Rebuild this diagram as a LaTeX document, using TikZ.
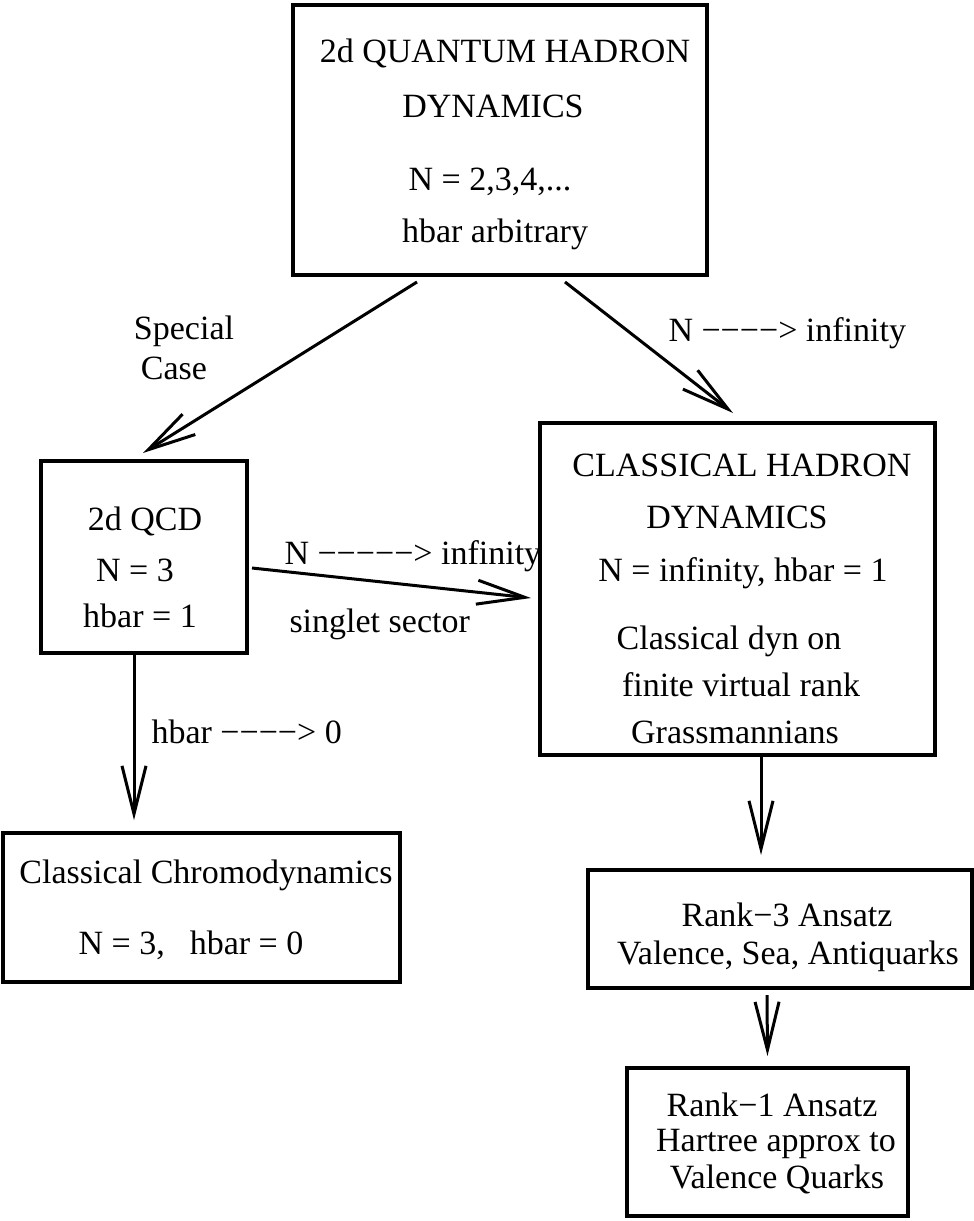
\documentclass[tikz,border=0pt]{standalone}
\usepackage{fontspec}
\setmainfont{Liberation Serif}
\usetikzlibrary{arrows.meta}
\tikzset{
  box/.style={draw,line width=4pt,inner sep=0pt},
  txt/.style={anchor=base,inner sep=0pt,font=\fontsize{34}{40}\selectfont},
}
\begin{document}
\begin{tikzpicture}[>={Straight Barb[length=48pt,width=24pt]},x=1pt,y=-1pt,line width=3pt]
  \useasboundingbox (0,0) rectangle (974,1221);
  % boxes
  \node[box,minimum width=414pt,minimum height=270pt] (top) at (500,140) {}; % quantum hadron dynamics
  \node[box,minimum width=206pt,minimum height=192pt] (qcd) at (144,557) {}; % 2d QCD
  \node[box,minimum width=395pt,minimum height=332pt] (chd) at (737.5,589) {}; % classical hadron dynamics
  \node[box,minimum width=397pt,minimum height=149pt] (ccd) at (201.5,907.5) {}; % classical chromodynamics
  \node[box,minimum width=384pt,minimum height=118pt] (rankthree) at (780,929) {};
  \node[box,minimum width=281pt,minimum height=148pt] (rankone) at (767.5,1142) {};
  % texts in boxes
  \node[txt] (top1) at (505,62) {2d QUANTUM HADRON};
  \node[txt] (top2) at (493,117) {DYNAMICS};
  \node[txt] (top3) at (490,190) {N = 2,3,4,...};
  \node[txt] (top4) at (495,242) {hbar arbitrary};
  \node[txt] (qcd1) at (145,530) {2d QCD};
  \node[txt] (qcd2) at (135,581) {N = 3};
  \node[txt] (qcd3) at (140,627) {hbar = 1};
  \node[txt] (chd1) at (742,476) {CLASSICAL HADRON};
  \node[txt] (chd2) at (737,528) {DYNAMICS};
  \node[txt] (chd3) at (743,581) {N = infinity, hbar = 1};
  \node[txt] (chd4) at (729,649) {Classical dyn on};
  \node[txt] (chd5) at (741,696) {finite virtual rank};
  \node[txt] (chd6) at (735,743) {Grassmannians};
  \node[txt] (ccd1) at (206,883) {Classical Chromodynamics};
  \node[txt] (ccd2) at (191,954) {N = 3,\hspace{25pt}hbar = 0};
  \node[txt] (rankthree1) at (787,926) {Rank−3 Ansatz};
  \node[txt] (rankthree2) at (788,964) {Valence, Sea, Antiquarks};
  \node[txt] (rankone1) at (772,1116) {Rank−1 Ansatz};
  \node[txt] (rankone2) at (776,1151) {Hartree approx to};
  \node[txt] (rankone3) at (777,1188) {Valence Quarks};
  % arrow labels
  \node[txt] (special) at (184,339) {Special};
  \node[txt] (case) at (174,379) {Case};
  \node[txt,anchor=base west] (largen) at (667,341) {N −−−−> infinity};
  \node[txt,anchor=base west] (largenqcd) at (283,564) {N −−−−−> infinity};
  \node[txt,anchor=base west] (singlet) at (288,632) {singlet sector};
  \node[txt,anchor=base west] (hbarzero) at (150,743) {hbar −−−−> 0};
  % arrows
  \draw[->] ([xshift=-83pt,yshift=-5pt]top.south) -- ([xshift=-1pt,yshift=6pt]qcd.north);
  \draw[->] ([xshift=65pt,yshift=-5pt]top.south) -- ([xshift=-4.5pt,yshift=8pt]chd.north);
  \draw[->] ([xshift=3pt,yshift=-11pt]qcd.east) -- ([xshift=-7pt,yshift=-9pt]chd.west);
  \draw[->] ([xshift=-10pt]qcd.south) -- ([xshift=-67.5pt,yshift=11pt]ccd.north);
  \draw[->] ([xshift=23.5pt]chd.south) -- ([xshift=-19pt,yshift=13pt]rankthree.north);
  \draw[->] ([xshift=-13pt,yshift=-5pt]rankthree.south) -- ([yshift=10pt]rankone.north);
\end{tikzpicture}
\end{document}
